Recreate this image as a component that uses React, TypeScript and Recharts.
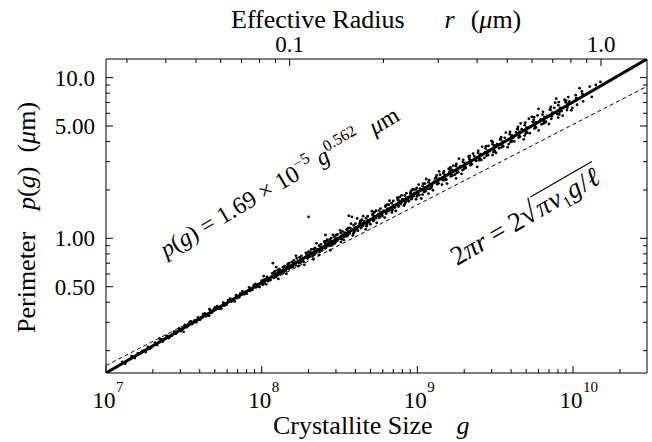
import React from 'react';
import { ComposedChart, XAxis, YAxis, Scatter, Line, Customized } from 'recharts';

const FONT = '"Liberation Serif", "Times New Roman", Times, serif';

// Axis domains
const gDomain: [number, number] = [1e7, 2.985e10];
const pDomain: [number, number] = [0.1452, 13.06];
const rDomain: [number, number] = [0.0257, 1.405];

// Tick values and labels
const gTicks = [
  1e7, 2e7, 3e7, 4e7, 5e7, 6e7, 7e7, 8e7, 9e7,
  1e8, 2e8, 3e8, 4e8, 5e8, 6e8, 7e8, 8e8, 9e8,
  1e9, 2e9, 3e9, 4e9, 5e9, 6e9, 7e9, 8e9, 9e9,
  1e10, 2e10,
];
const gMajorTicks = [1e7, 1e8, 1e9, 1e10];
const gExponents = ['7', '8', '9', '10'];

const pTicks = [0.2, 0.3, 0.4, 0.5, 0.6, 0.7, 0.8, 0.9, 1, 2, 3, 4, 5, 6, 7, 8, 9, 10];
const pMajorTicks = [0.5, 1, 5, 10];
const pTickLabels = ['0.50', '1.00', '5.00', '10.0'];

const rTicks = [0.03, 0.04, 0.05, 0.06, 0.07, 0.08, 0.09, 0.1, 0.2, 0.3, 0.4, 0.5, 0.6, 0.7, 0.8, 0.9, 1];
const rMajorTicks = [0.1, 1];
const rTickLabels = ['0.1', '1.0'];

// Fitted power law p(g) = 1.69e-5 g^0.562 (end points)
const fitG = [1e7, 2.985e10];
const fitP = [0.1452, 13.06];

// Geometric 2*pi*r (end points, against top r axis)
const geomR = [0.0257, 1.405];
const geomP = [0.1615, 8.83];

// Measured crystallites [g, p]
const scatter7: [number, number][] = [
  [1.27e7, 0.170], [1.33e7, 0.166], [1.46e7, 0.185], [1.53e7, 0.180], [1.68e7, 0.193], [1.72e7, 0.199],
  [1.86e7, 0.211], [1.91e7, 0.205], [1.95e7, 0.209], [2.06e7, 0.224], [2.13e7, 0.217], [2.26e7, 0.236],
  [2.31e7, 0.228], [2.35e7, 0.233], [2.45e7, 0.247], [2.52e7, 0.239], [2.57e7, 0.244], [2.74e7, 0.263],
  [2.81e7, 0.255], [2.86e7, 0.260], [2.95e7, 0.275], [3.02e7, 0.265], [3.08e7, 0.270], [3.22e7, 0.289],
  [3.30e7, 0.280], [3.37e7, 0.286], [3.52e7, 0.304], [3.58e7, 0.293], [3.64e7, 0.299], [3.70e7, 0.307],
  [3.91e7, 0.322], [4.02e7, 0.311], [4.09e7, 0.318], [4.31e7, 0.341], [4.40e7, 0.328], [4.48e7, 0.336],
  [4.69e7, 0.357], [4.77e7, 0.344], [4.85e7, 0.352], [4.93e7, 0.361], [5.18e7, 0.378], [5.30e7, 0.364],
  [5.41e7, 0.372], [5.66e7, 0.398], [5.76e7, 0.382], [5.86e7, 0.393], [5.95e7, 0.386], [6.27e7, 0.421],
  [6.40e7, 0.404], [6.53e7, 0.415], [6.85e7, 0.443], [6.96e7, 0.425], [7.08e7, 0.436], [7.17e7, 0.429],
  [7.52e7, 0.468], [7.70e7, 0.448], [7.86e7, 0.462], [8.30e7, 0.495], [8.44e7, 0.472], [8.58e7, 0.487],
  [8.72e7, 0.478], [9.10e7, 0.521], [9.25e7, 0.497], [9.38e7, 0.513], [9.52e7, 0.504],
  [3.15e7, 0.262], [3.45e7, 0.302], [3.80e7, 0.300], [4.20e7, 0.338], [4.60e7, 0.330], [5.00e7, 0.372],
  [5.50e7, 0.365], [6.10e7, 0.412], [6.70e7, 0.405], [7.30e7, 0.455], [8.00e7, 0.452], [8.90e7, 0.510],
  [9.70e7, 0.498], [2.20e7, 0.238], [2.65e7, 0.248], [1.60e7, 0.192], [1.80e7, 0.196], [4.62e7, 0.362],
];

const scatter8: [number, number][] = [
  [1.00e8, 0.545], [1.02e8, 0.515], [1.04e8, 0.532], [9.9e7, 0.522], [1.03e8, 0.552],
  [1.08e8, 0.575], [1.10e8, 0.543], [1.12e8, 0.562], [1.14e8, 0.551],
  [1.17e8, 0.605], [1.19e8, 0.570], [1.21e8, 0.592], [1.23e8, 0.579], [1.20e8, 0.616],
  [1.27e8, 0.633], [1.29e8, 0.596], [1.31e8, 0.620], [1.33e8, 0.606], [1.30e8, 0.642],
  [1.37e8, 0.660], [1.39e8, 0.620], [1.41e8, 0.646], [1.43e8, 0.631], [1.40e8, 0.672], [1.38e8, 0.612],
  [1.47e8, 0.688], [1.49e8, 0.645], [1.51e8, 0.672], [1.53e8, 0.657], [1.50e8, 0.701],
  [1.56e8, 0.713], [1.59e8, 0.668], [1.62e8, 0.697], [1.65e8, 0.680], [1.61e8, 0.728], [1.57e8, 0.662],
  [1.75e8, 0.762], [1.78e8, 0.713], [1.81e8, 0.745], [1.84e8, 0.728], [1.80e8, 0.778], [1.77e8, 0.705],
  [1.95e8, 0.809], [1.98e8, 0.756], [2.01e8, 0.790], [2.04e8, 0.771], [2.00e8, 0.826], [1.97e8, 0.748],
  [2.15e8, 0.855], [2.18e8, 0.797], [2.21e8, 0.834], [2.24e8, 0.813], [2.20e8, 0.873], [2.17e8, 0.789],
  [2.34e8, 0.899], [2.38e8, 0.837], [2.41e8, 0.877], [2.44e8, 0.854], [2.40e8, 0.918], [2.36e8, 0.828],
  [2.54e8, 0.941], [2.58e8, 0.875], [2.62e8, 0.918], [2.65e8, 0.894], [2.60e8, 0.962], [2.56e8, 0.866],
  [2.74e8, 0.981], [2.78e8, 0.911], [2.82e8, 0.956], [2.86e8, 0.931], [2.80e8, 1.003], [2.76e8, 0.902],
  [2.93e8, 1.021], [2.98e8, 0.946], [3.02e8, 0.994], [3.06e8, 0.968], [3.00e8, 1.045], [2.95e8, 0.937],
  [3.22e8, 1.078], [3.27e8, 0.998], [3.32e8, 1.049], [3.37e8, 1.021], [3.30e8, 1.105], [3.25e8, 0.988],
  [3.52e8, 1.133], [3.57e8, 1.047], [3.62e8, 1.102], [3.67e8, 1.072], [3.60e8, 1.162], [3.55e8, 1.036],
  [3.90e8, 1.203], [3.96e8, 1.110], [4.02e8, 1.169], [4.08e8, 1.137], [4.00e8, 1.234], [3.94e8, 1.098],
  [4.29e8, 1.270], [4.36e8, 1.171], [4.42e8, 1.234], [4.49e8, 1.200], [4.40e8, 1.305], [4.33e8, 1.158],
  [4.68e8, 1.335], [4.75e8, 1.229], [4.82e8, 1.297], [4.89e8, 1.260], [4.80e8, 1.372], [4.72e8, 1.215],
  [5.17e8, 1.412], [5.25e8, 1.298], [5.33e8, 1.371], [5.41e8, 1.332], [5.30e8, 1.453], [5.21e8, 1.283],
  [5.66e8, 1.487], [5.74e8, 1.365], [5.83e8, 1.443], [5.92e8, 1.402], [5.80e8, 1.532], [5.70e8, 1.349],
  [6.24e8, 1.572], [6.33e8, 1.441], [6.43e8, 1.525], [6.53e8, 1.480], [6.40e8, 1.622], [6.29e8, 1.424],
  [6.83e8, 1.654], [6.93e8, 1.514], [7.04e8, 1.604], [7.14e8, 1.556], [7.00e8, 1.707], [6.88e8, 1.497],
  [7.51e8, 1.747], [7.62e8, 1.597], [7.74e8, 1.693], [7.85e8, 1.643], [7.70e8, 1.805], [7.56e8, 1.578],
  [8.29e8, 1.847], [8.41e8, 1.686], [8.54e8, 1.789], [8.67e8, 1.735], [8.50e8, 1.910], [8.35e8, 1.666],
  [9.07e8, 1.946], [9.20e8, 1.773], [9.34e8, 1.884], [9.48e8, 1.826], [9.30e8, 2.014], [9.13e8, 1.752],
  [2.00e8, 1.36], [2.57e8, 1.05], [3.63e8, 1.38], [3.80e8, 1.36], [4.10e8, 1.33], [1.18e8, 0.70],
];

const scatter8b: [number, number][] = [
  [1.03e8, 0.582], [1.07e8, 0.517], [1.05e8, 0.555],
  [1.22e8, 0.625], [1.28e8, 0.559], [1.24e8, 0.661], [1.265e8, 0.589],
  [1.42e8, 0.633], [1.48e8, 0.692], [1.44e8, 0.601], [1.465e8, 0.666],
  [1.66e8, 0.778], [1.74e8, 0.700], [1.68e8, 0.750], [1.72e8, 0.671],
  [1.86e8, 0.714], [1.94e8, 0.783], [1.88e8, 0.684], [1.92e8, 0.813],
  [2.05e8, 0.820], [2.15e8, 0.740], [2.08e8, 0.852], [2.12e8, 0.772],
  [2.25e8, 0.931], [2.35e8, 0.821], [2.27e8, 0.854], [2.33e8, 0.787],
  [2.44e8, 0.842], [2.56e8, 0.930], [2.47e8, 0.877], [2.53e8, 0.957],
  [2.64e8, 0.982], [2.76e8, 0.843], [2.67e8, 0.954], [2.73e8, 0.907],
  [2.83e8, 0.905], [2.97e8, 0.982], [2.87e8, 1.050], [2.93e8, 0.924],
  [3.07e8, 1.059], [3.23e8, 0.948], [3.11e8, 0.989], [3.19e8, 1.120],
  [3.37e8, 0.977], [3.53e8, 1.136], [3.41e8, 1.083], [3.49e8, 1.030],
  [3.71e8, 1.156], [3.89e8, 1.077], [3.75e8, 1.234], [3.85e8, 1.043],
  [4.10e8, 1.163], [4.30e8, 1.282], [4.15e8, 1.116], [4.25e8, 1.234],
  [4.49e8, 1.374], [4.71e8, 1.187], [4.54e8, 1.274], [4.66e8, 1.137],
  [4.93e8, 1.290], [5.17e8, 1.395], [4.99e8, 1.224], [5.11e8, 1.474],
  [5.42e8, 1.485], [5.68e8, 1.346], [5.48e8, 1.249], [5.62e8, 1.416],
  [5.96e8, 1.376], [6.24e8, 1.596], [6.03e8, 1.479], [6.17e8, 1.347],
  [6.54e8, 1.620], [6.86e8, 1.450], [6.62e8, 1.713], [6.78e8, 1.512],
  [7.18e8, 1.560], [7.52e8, 1.723], [7.26e8, 1.479], [7.44e8, 1.788],
  [7.91e8, 1.853], [8.29e8, 1.630], [8.00e8, 1.750], [8.20e8, 1.596],
  [8.69e8, 1.756], [9.11e8, 1.973], [8.80e8, 1.701], [9.00e8, 1.901],
  [9.47e8, 2.014], [9.93e8, 1.824], [9.59e8, 1.919], [9.81e8, 1.748],
];

const scatter9: [number, number][] = [
  [9.8e8, 2.01], [1.00e9, 1.84], [1.02e9, 1.96], [1.01e9, 1.90], [9.9e8, 2.06], [1.03e9, 1.86],
  [1.08e9, 2.12], [1.10e9, 1.94], [1.12e9, 2.07], [1.11e9, 2.00], [1.09e9, 2.19], [1.13e9, 1.96],
  [1.18e9, 2.23], [1.20e9, 2.03], [1.22e9, 2.17], [1.21e9, 2.10], [1.19e9, 2.30], [1.23e9, 2.06],
  [1.32e9, 2.39], [1.34e9, 2.17], [1.36e9, 2.32], [1.35e9, 2.24], [1.33e9, 2.46], [1.37e9, 2.20], [1.38e9, 2.35],
  [1.47e9, 2.54], [1.49e9, 2.30], [1.51e9, 2.47], [1.50e9, 2.38], [1.48e9, 2.61], [1.53e9, 2.33],
  [1.62e9, 2.68], [1.64e9, 2.43], [1.66e9, 2.60], [1.65e9, 2.51], [1.63e9, 2.76], [1.68e9, 2.46], [1.67e9, 2.64],
  [1.77e9, 2.82], [1.79e9, 2.55], [1.82e9, 2.73], [1.80e9, 2.63], [1.78e9, 2.90], [1.83e9, 2.58],
  [1.96e9, 2.99], [1.99e9, 2.70], [2.02e9, 2.90], [2.00e9, 2.79], [1.97e9, 3.08], [2.04e9, 2.74], [2.03e9, 2.95],
  [2.16e9, 3.16], [2.19e9, 2.85], [2.22e9, 3.06], [2.20e9, 2.94], [2.17e9, 3.26], [2.24e9, 2.89],
  [2.45e9, 3.40], [2.48e9, 3.06], [2.52e9, 3.29], [2.50e9, 3.16], [2.46e9, 3.50], [2.55e9, 3.10], [2.53e9, 3.34],
  [2.74e9, 3.63], [2.78e9, 3.26], [2.82e9, 3.51], [2.80e9, 3.37], [2.76e9, 3.74], [2.85e9, 3.30],
  [3.04e9, 3.85], [3.08e9, 3.45], [3.12e9, 3.72], [3.10e9, 3.57], [3.05e9, 3.97], [3.15e9, 3.49], [3.13e9, 3.79],
  [3.43e9, 4.13], [3.48e9, 3.69], [3.53e9, 3.99], [3.50e9, 3.82], [3.45e9, 4.26], [3.56e9, 3.73],
  [3.92e9, 4.45], [3.97e9, 3.97], [4.03e9, 4.30], [4.00e9, 4.11], [3.94e9, 4.60], [4.06e9, 4.02], [4.04e9, 4.37],
  [4.41e9, 4.77], [4.47e9, 4.24], [4.53e9, 4.60], [4.50e9, 4.39], [4.43e9, 4.93], [4.57e9, 4.29],
  [4.90e9, 5.06], [4.97e9, 4.49], [5.03e9, 4.88], [5.00e9, 4.66], [4.93e9, 5.25], [5.07e9, 4.55],
  [5.59e9, 5.46], [5.66e9, 4.83], [5.74e9, 5.26], [5.70e9, 5.01], [5.62e9, 5.67], [5.78e9, 4.89],
  [6.37e9, 5.89], [6.45e9, 5.19], [6.55e9, 5.67], [6.50e9, 5.39], [6.41e9, 6.13], [6.59e9, 5.25],
  [7.15e9, 6.30], [7.25e9, 5.54], [7.36e9, 6.05], [7.30e9, 5.75], [7.20e9, 6.57],
  [8.04e9, 6.74], [8.15e9, 5.90], [8.27e9, 6.47], [8.20e9, 6.13], [8.09e9, 7.05],
  [9.02e9, 7.20], [9.14e9, 6.29], [9.28e9, 6.90], [9.20e9, 6.53],
  [6.0e9, 6.40], [7.8e9, 7.40], [5.2e9, 5.55],
];

const scatter9b: [number, number][] = [
  [1.02e9, 2.16], [1.08e9, 1.87], [1.04e9, 2.04], [1.06e9, 1.77],
  [1.12e9, 2.19], [1.18e9, 1.90], [1.14e9, 2.34], [1.16e9, 2.03],
  [1.24e9, 2.12], [1.30e9, 2.36], [1.26e9, 1.99], [1.28e9, 2.25],
  [1.38e9, 2.61], [1.46e9, 2.30], [1.40e9, 2.49], [1.44e9, 2.16],
  [1.53e9, 2.31], [1.61e9, 2.59], [1.55e9, 2.19], [1.59e9, 2.71],
  [1.67e9, 2.67], [1.77e9, 2.36], [1.70e9, 2.83], [1.74e9, 2.49],
  [1.85e9, 3.13], [1.95e9, 2.66], [1.88e9, 2.80], [1.92e9, 2.52],
  [2.04e9, 2.75], [2.16e9, 3.10], [2.07e9, 2.90], [2.13e9, 3.22],
  [2.28e9, 3.37], [2.42e9, 2.78], [2.32e9, 3.25], [2.38e9, 3.03],
  [2.57e9, 3.07], [2.73e9, 3.44], [2.61e9, 3.71], [2.69e9, 3.17],
  [2.86e9, 3.76], [3.04e9, 3.30], [2.91e9, 3.48], [2.99e9, 4.04],
  [3.20e9, 3.40], [3.40e9, 4.12], [3.25e9, 3.85], [3.35e9, 3.63],
  [3.64e9, 4.22], [3.86e9, 3.86], [3.70e9, 4.55], [3.80e9, 3.69],
  [4.12e9, 4.22], [4.38e9, 4.79], [4.19e9, 4.01], [4.31e9, 4.57],
  [4.61e9, 5.19], [4.89e9, 4.36], [4.68e9, 4.78], [4.82e9, 4.13],
  [5.19e9, 4.86], [5.51e9, 5.30], [5.27e9, 4.51], [5.43e9, 5.70],
  [5.92e9, 5.82], [6.28e9, 5.12], [6.01e9, 4.69], [6.19e9, 5.50],
  [6.69e9, 5.32], [7.11e9, 6.35], [6.80e9, 5.78], [7.00e9, 5.15],
  [7.57e9, 6.49], [8.03e9, 5.64], [7.68e9, 6.98], [7.92e9, 5.94],
  [8.44e9, 6.19], [8.96e9, 7.03], [8.57e9, 5.80], [8.83e9, 7.29],
  [9.31e9, 7.57], [9.89e9, 6.47], [9.46e9, 7.09], [9.74e9, 6.26],
];

const scatter10: [number, number][] = [
  [1.04e10, 7.78], [1.06e10, 6.78], [1.05e10, 7.45], [1.14e10, 8.20], [1.16e10, 7.12], [1.15e10, 7.90],
  [1.28e10, 8.80], [1.32e10, 7.60], [1.50e10, 9.40], [1.10e10, 8.60], [1.22e10, 7.90], [1.40e10, 9.00],
];

const toPts = (arr: [number, number][]) => arr.map(([g, p]) => ({ g, p }));
const scatterData = [
  ...toPts(scatter7), ...toPts(scatter8), ...toPts(scatter8b),
  ...toPts(scatter9), ...toPts(scatter9b), ...toPts(scatter10),
];
const fitData = fitG.map((g, i) => ({ g, p: fitP[i] }));
const geomData = geomR.map((r, i) => ({ r, p: geomP[i] }));

const BottomTick = (props: any) => {
  const { x, y, payload } = props;
  const i = gMajorTicks.indexOf(payload.value);
  const major = i >= 0;
  return (
    <g>
      <line x1={x} x2={x} y1={y} y2={y - (major ? 7 : 4)} stroke="#000" strokeWidth={1} />
      {major && (
        <text x={x - 2} y={y + 35} textAnchor="middle" fontFamily={FONT} fontSize={23} fill="#000">10</text>
      )}
      {major && (
        <text x={x + 10} y={y + 19} textAnchor="start" fontFamily={FONT} fontSize={15} fill="#000">{gExponents[i]}</text>
      )}
    </g>
  );
};

const TopTick = (props: any) => {
  const { x, y, payload } = props;
  const i = rMajorTicks.indexOf(payload.value);
  const major = i >= 0;
  return (
    <g>
      <line x1={x} x2={x} y1={y} y2={y + (major ? 7 : 4)} stroke="#000" strokeWidth={1} />
      {major && (
        <text x={x} y={y - 7} textAnchor="middle" fontFamily={FONT} fontSize={23} fill="#000">{rTickLabels[i]}</text>
      )}
    </g>
  );
};

const LeftTick = (props: any) => {
  const { x, y, payload } = props;
  const i = pMajorTicks.indexOf(payload.value);
  const major = i >= 0;
  return (
    <g>
      <line x1={x} x2={x + (major ? 7 : 4)} y1={y} y2={y} stroke="#000" strokeWidth={1} />
      {major && (
        <text x={x - 11} y={y} dy="0.35em" textAnchor="end" fontFamily={FONT} fontSize={23} fill="#000">{pTickLabels[i]}</text>
      )}
    </g>
  );
};

const RightTick = (props: any) => {
  const { x, y, payload } = props;
  const major = pMajorTicks.indexOf(payload.value) >= 0;
  return <line x1={x} x2={x - (major ? 7 : 4)} y1={y} y2={y} stroke="#000" strokeWidth={1} />;
};

const Dot = (props: any) => <circle cx={props.cx} cy={props.cy} r={1.4} fill="#000" />;

const Texts = () => (
  <g fontFamily={FONT} fill="#000">
    {/* top title */}
    <text x={231} y={28} fontSize={26}>
      Effective Radius
      <tspan dx={40} fontStyle="italic">r</tspan>
      <tspan dx={16}>(</tspan>
      <tspan fontStyle="italic">μ</tspan>
      <tspan>m)</tspan>
    </text>
    {/* bottom title */}
    <text x={273} y={434} fontSize={26}>
      Crystallite Size
      <tspan dx={24} fontStyle="italic">g</tspan>
    </text>
    {/* left title */}
    <text x={35} y={333} fontSize={26} transform="rotate(-90, 35, 333)">
      Perimeter
      <tspan dx={22} fontStyle="italic">p</tspan>
      <tspan>(</tspan>
      <tspan fontStyle="italic">g</tspan>
      <tspan>)</tspan>
      <tspan dx={14}>(</tspan>
      <tspan fontStyle="italic">μ</tspan>
      <tspan>m)</tspan>
    </text>
    {/* fit formula */}
    <text x={166} y={258} fontSize={24} transform="rotate(-30.5, 166, 258)">
      <tspan fontStyle="italic">p</tspan>
      <tspan>(</tspan>
      <tspan fontStyle="italic">g</tspan>
      <tspan>{') = 1.69 × 10'}</tspan>
      <tspan dy={-10} fontSize={16}>−5</tspan>
      <tspan dy={10} dx={6} fontStyle="italic">g</tspan>
      <tspan dy={-10} fontSize={16}>0.562</tspan>
      <tspan dy={10} dx={14} fontStyle="italic">μ</tspan>
      <tspan>m</tspan>
    </text>
    {/* geometric formula */}
    <g transform="rotate(-30, 457, 266)">
      <text x={457} y={266} fontSize={27}>
        <tspan>2</tspan>
        <tspan fontStyle="italic">πr</tspan>
        <tspan>{' = 2'}</tspan>
        <tspan fontSize={30}>√</tspan>
        <tspan dx={1} fontStyle="italic">π</tspan>
        <tspan dx={1} fontStyle="italic">v</tspan>
        <tspan dy={5} fontSize={16}>1</tspan>
        <tspan dy={-5} dx={1} fontStyle="italic">g</tspan>
        <tspan dx={1}>/</tspan>
        <tspan dx={1} fontStyle="italic">ℓ</tspan>
      </text>
      <line x1={555} x2={626} y1={243} y2={243} stroke="#000" strokeWidth={1.2} />
    </g>
  </g>
);

export default function App() {
  return (
    <div style={{ position: 'absolute', left: 0, top: 0, width: 652, height: 442, background: '#fff' }}>
      <ComposedChart
        width={652}
        height={442}
        margin={{ top: 29, right: 4, bottom: 29, left: 46 }}
      >
        <XAxis
          xAxisId="g"
          dataKey="g"
          type="number"
          scale="log"
          domain={gDomain}
          allowDataOverflow
          ticks={gTicks}
          interval={0}
          orientation="bottom"
          height={40}
          tickSize={0}
          tickMargin={0}
          tick={<BottomTick />}
          axisLine={{ stroke: '#000', strokeWidth: 1 }}
          tickLine={false}
        />
        <XAxis
          xAxisId="r"
          dataKey="r"
          type="number"
          scale="log"
          domain={rDomain}
          allowDataOverflow
          ticks={rTicks}
          interval={0}
          orientation="top"
          height={30}
          tickSize={0}
          tickMargin={0}
          tick={<TopTick />}
          axisLine={{ stroke: '#000', strokeWidth: 1 }}
          tickLine={false}
        />
        <YAxis
          yAxisId="p"
          dataKey="p"
          type="number"
          scale="log"
          domain={pDomain}
          allowDataOverflow
          ticks={pTicks}
          interval={0}
          orientation="left"
          width={60}
          tickSize={0}
          tickMargin={0}
          tick={<LeftTick />}
          axisLine={{ stroke: '#000', strokeWidth: 1 }}
          tickLine={false}
        />
        <YAxis
          yAxisId="pr"
          dataKey="p"
          type="number"
          scale="log"
          domain={pDomain}
          allowDataOverflow
          ticks={pTicks}
          interval={0}
          orientation="right"
          width={1}
          tickSize={0}
          tickMargin={0}
          tick={<RightTick />}
          axisLine={{ stroke: '#000', strokeWidth: 1 }}
          tickLine={false}
        />
        <Scatter
          data={scatterData}
          xAxisId="g"
          yAxisId="p"
          dataKey="p"
          shape={<Dot />}
          isAnimationActive={false}
        />
        <Line
          data={geomData}
          xAxisId="r"
          yAxisId="p"
          dataKey="p"
          stroke="#000"
          strokeWidth={1}
          strokeDasharray="4 3"
          dot={false}
          activeDot={false}
          isAnimationActive={false}
        />
        <Line
          data={fitData}
          xAxisId="g"
          yAxisId="p"
          dataKey="p"
          stroke="#000"
          strokeWidth={3}
          dot={false}
          activeDot={false}
          isAnimationActive={false}
        />
        <Line
          data={fitData}
          xAxisId="g"
          yAxisId="pr"
          dataKey="p"
          stroke="none"
          dot={false}
          activeDot={false}
          isAnimationActive={false}
        />
        <Customized component={<Texts />} />
      </ComposedChart>
    </div>
  );
}
